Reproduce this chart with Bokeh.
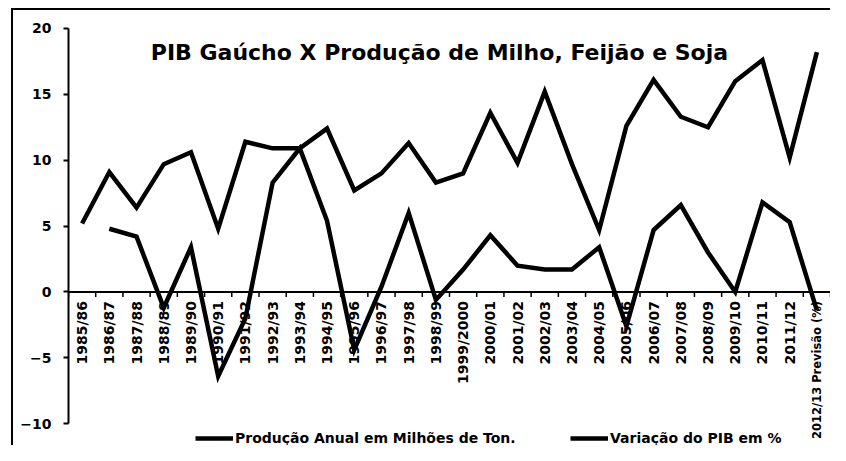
import math
from bokeh.plotting import figure
from bokeh.models import (Range1d, FixedTicker, Span, LabelSet, Label, Legend, LegendItem,
                          ColumnDataSource, InlineStyleSheet)
from bokeh.core.properties import value
from bokeh.embed import file_html
from bokeh.resources import INLINE

# ---------------- data ----------------
categories = ["1985/86", "1986/87", "1987/88", "1988/89", "1989/90", "1990/91", "1991/92",
              "1992/93", "1993/94", "1994/95", "1995/96", "1996/97", "1997/98", "1998/99",
              "1999/2000", "2000/01", "2001/02", "2002/03", "2003/04", "2004/05", "2005/06",
              "2006/07", "2007/08", "2008/09", "2009/10", "2010/11", "2011/12",
              "2012/13 Previsão (%)"]
producao = [5.2, 9.1, 6.4, 9.7, 10.6, 4.8, 11.4, 10.9, 10.9, 12.4, 7.7, 9.0, 11.3, 8.3,
            9.0, 13.6, 9.8, 15.2, 9.7, 4.7, 12.6, 16.1, 13.3, 12.5, 16.0, 17.6, 10.2, 18.2]
pib = [float("nan"), 4.8, 4.2, -1.2, 3.4, -6.4, -2.0, 8.3, 10.9, 5.4, -4.4, 0.4, 6.0, -0.6,
       1.7, 4.3, 2.0, 1.7, 1.7, 3.4, -2.6, 4.7, 6.6, 3.0, 0.0, 6.8, 5.3, -1.4]
y_ticks = [-10, -5, 0, 5, 10, 15, 20]
title_text = "PIB Gaúcho X Produção de Milho, Feijão e Soja"
label_prod = "Produção Anual em Milhões de Ton."
label_pib = "Variação do PIB em %"

idx = list(range(len(categories)))
FONT = "DejaVu Sans"
Y0, Y1 = -11.65, 22.12

p = figure(width=830, height=445, output_backend="svg", toolbar_location=None,
           x_range=Range1d(-0.5, len(categories) - 0.5), y_range=Range1d(Y0, Y1),
           x_axis_location=None, y_axis_location="left",
           min_border_left=68, min_border_right=0, min_border_top=0, min_border_bottom=0)
p.outline_line_color = None
p.xgrid.visible = False
p.ygrid.visible = False
p.background_fill_color = "white"
p.border_fill_color = "white"

# outer chart border (scanned frame): left and top edges only
p.stylesheets = [InlineStyleSheet(css="""
:host { position: relative; }
:host::after { content: ""; position: absolute; left: 11px; top: 8px; width: 819px;
               height: 437px; box-sizing: border-box; border-left: 2px solid #000;
               border-top: 2px solid #000; z-index: 5; pointer-events: none; }
""")]

ax = p.yaxis[0]
ax.ticker = FixedTicker(ticks=y_ticks)
ax.bounds = (min(y_ticks), max(y_ticks))
ax.axis_line_width = 2
ax.axis_line_color = "black"
ax.major_tick_out = 5
ax.major_tick_in = 0
ax.major_tick_line_width = 2
ax.minor_tick_out = 0
ax.minor_tick_in = 0
ax.major_label_standoff = 12
ax.major_label_text_font = FONT
ax.major_label_text_font_style = "bold"
ax.major_label_text_font_size = "14px"
ax.major_label_text_color = "black"

# x axis line at zero
p.add_layout(Span(location=0, dimension="width", line_color="black", line_width=2))
# category boundary ticks
bnd = [i - 0.5 for i in range(len(categories) + 1)]
p.segment(x0=bnd, x1=bnd, y0=[0] * len(bnd), y1=[-0.38] * len(bnd), line_color="black",
          line_width=1.5)

r1 = p.line(idx, producao, line_color="black", line_width=4.5, line_join="miter")
r2 = p.line(idx, pib, line_color="black", line_width=4.5, line_join="miter")

src = ColumnDataSource(dict(x=idx[:-1], y=[0] * (len(idx) - 1), t=categories[:-1]))
p.add_layout(LabelSet(x="x", y="y", text="t", source=src, angle=math.pi / 2,
                      text_align="right", text_baseline="middle", y_offset=-9,
                      text_font=value(FONT), text_font_style="bold",
                      text_font_size=value("14px"), text_color="black"))
src_last = ColumnDataSource(dict(x=idx[-1:], y=[0], t=categories[-1:]))
p.add_layout(LabelSet(x="x", y="y", text="t", source=src_last, angle=math.pi / 2,
                      text_align="right", text_baseline="middle", y_offset=-9,
                      text_font=value(FONT), text_font_style="bold",
                      text_font_size=value("11.5px"), text_color="black"))

p.add_layout(Label(x=13.13, y=18.17, text=title_text, text_align="center",
                   text_baseline="middle", text_font=FONT, text_font_style="bold",
                   text_font_size="22px", text_color="black"))

for item_label, rend, loc in [(label_prod, r1, (127, -3)), (label_pib, r2, (502, -3))]:
    lg = Legend(items=[LegendItem(label=item_label, renderers=[rend])], location=loc,
                orientation="horizontal", glyph_width=38, glyph_height=20,
                label_standoff=2, padding=0, margin=0, border_line_alpha=0,
                background_fill_alpha=0, label_text_font=FONT,
                label_text_font_style="bold", label_text_font_size="14px",
                label_text_color="black")
    p.add_layout(lg)

open("out.html", "w").write(file_html(p, INLINE))
